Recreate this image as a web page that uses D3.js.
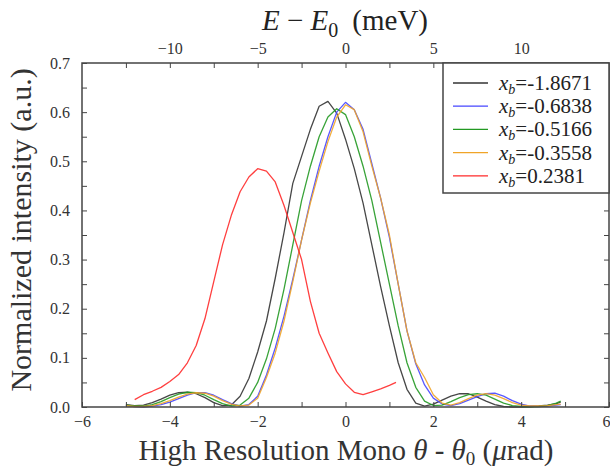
<!DOCTYPE html>
<html><head><meta charset="utf-8">
<script src="https://cdn.jsdelivr.net/npm/d3@7"></script>
<style>
body{margin:0;background:#fff;}
svg{display:block;font-family:"Liberation Serif","DejaVu Serif",serif;}
</style></head>
<body><svg id="c" width="610" height="473"></svg>
<script>
// ---- data (theta - theta0 in µrad, normalized intensity) ----
const gridX = [-5.0,-4.8,-4.6,-4.4,-4.2,-4.0,-3.8,-3.6,-3.4,-3.2,-3.0,-2.8,-2.6,-2.4,-2.2,-2.0,-1.8,-1.6,-1.4,-1.2,-1.0,-0.8,-0.6,-0.4,-0.2,0.0,0.2,0.4,0.6,0.8,1.0,1.2,1.4,1.6,1.8,2.0,2.2,2.4,2.6,2.8,3.0,3.2,3.4,3.6,3.8,4.0,4.2,4.4,4.6,4.8,4.9];
const blackY = [0.005,0.003,0.004,0.009,0.016,0.024,0.029,0.030,0.027,0.019,0.009,0.003,0.004,0.022,0.058,0.112,0.175,0.262,0.355,0.455,0.510,0.565,0.612,0.622,0.598,0.545,0.485,0.415,0.330,0.245,0.165,0.090,0.036,0.008,0.002,0.006,0.014,0.022,0.027,0.027,0.020,0.012,0.005,0.001,0.000,0.000,0.001,0.002,0.004,0.007,0.010];
const blueY = [0.003,0.001,0.000,0.002,0.005,0.010,0.017,0.024,0.029,0.029,0.024,0.015,0.007,0.002,0.005,0.022,0.065,0.120,0.185,0.260,0.340,0.420,0.490,0.550,0.600,0.620,0.605,0.565,0.495,0.425,0.345,0.250,0.155,0.088,0.045,0.018,0.006,0.003,0.007,0.014,0.021,0.027,0.028,0.022,0.013,0.006,0.002,0.001,0.002,0.004,0.005];
const greenY = [0.004,0.002,0.002,0.005,0.011,0.019,0.026,0.030,0.029,0.024,0.015,0.007,0.002,0.004,0.018,0.050,0.098,0.160,0.240,0.330,0.420,0.490,0.550,0.590,0.607,0.595,0.550,0.490,0.420,0.335,0.250,0.165,0.090,0.040,0.012,0.003,0.004,0.011,0.019,0.025,0.027,0.024,0.016,0.008,0.003,0.001,0.000,0.001,0.003,0.008,0.012];
const orangeY = [0.003,0.001,0.001,0.003,0.007,0.013,0.020,0.026,0.029,0.028,0.022,0.013,0.006,0.002,0.004,0.018,0.060,0.110,0.175,0.255,0.340,0.415,0.480,0.540,0.590,0.615,0.605,0.560,0.490,0.425,0.350,0.250,0.155,0.090,0.060,0.025,0.008,0.004,0.009,0.017,0.024,0.027,0.024,0.017,0.009,0.004,0.002,0.002,0.003,0.005,0.006];
const redX = [-4.8,-4.6,-4.4,-4.2,-4.0,-3.8,-3.6,-3.4,-3.2,-3.0,-2.8,-2.6,-2.4,-2.2,-2.0,-1.8,-1.6,-1.4,-1.2,-1.0,-0.8,-0.6,-0.4,-0.2,0.0,0.2,0.4,0.6,0.8,1.0,1.15];
const redY = [0.015,0.025,0.032,0.040,0.052,0.066,0.090,0.125,0.180,0.255,0.330,0.390,0.438,0.468,0.485,0.480,0.458,0.410,0.355,0.300,0.215,0.150,0.110,0.072,0.047,0.030,0.025,0.031,0.037,0.044,0.050];
const seriesNames = ["-1.8671","-0.6838","-0.5166","-0.3558","0.2381"];
const seriesColors = ["#333333","#4646ff","#229922","#f0a428","#ff2a2a"];
const xTicks = [-6,-4,-2,0,2,4,6];
const yTicks = [0.0,0.1,0.2,0.3,0.4,0.5,0.6,0.7];
const topTicks = [-10,-5,0,5,10];

const series = [
  {name:seriesNames[0], color:seriesColors[0], xs:gridX, ys:blackY},
  {name:seriesNames[1], color:seriesColors[1], xs:gridX, ys:blueY},
  {name:seriesNames[2], color:seriesColors[2], xs:gridX, ys:greenY},
  {name:seriesNames[3], color:seriesColors[3], xs:gridX, ys:orangeY},
  {name:seriesNames[4], color:seriesColors[4], xs:redX, ys:redY}
];

const L=82, R=609, T=63, B=407;
const svg = d3.select("#c");
const x = d3.scaleLinear().domain([-6,6]).range([L,R]);
const xTop = d3.scaleLinear().domain([-15,15]).range([L,R]);
const y = d3.scaleLinear().domain([0,0.7]).range([B,T]);
const axisCol = "#444";
const labCol = "#333";

// curves
const line = d3.line().x(d=>x(d[0])).y(d=>y(d[1]));
const plot = svg.append("g");
series.forEach(s=>{
  plot.append("path").datum(s.xs.map((v,i)=>[v,s.ys[i]]))
    .attr("d",line).attr("fill","none").attr("stroke",s.color)
    .attr("stroke-width",1.3).attr("stroke-linejoin","round").attr("opacity",0.9);
});

// axes
function styleAxis(g){
  g.select(".domain").remove();
  g.selectAll(".tick line").attr("stroke",axisCol).attr("stroke-width",1);
  g.selectAll(".tick text").attr("fill",labCol).attr("font-size",16)
    .attr("font-family","'Liberation Serif',serif");
}
const gb = svg.append("g").attr("transform",`translate(0,${B})`)
  .call(d3.axisBottom(x).tickValues(d3.range(-6,6.01,1)).tickSizeInner(-5).tickSizeOuter(0).tickPadding(9)
    .tickFormat(d=> xTicks.includes(d)? d3.format("d")(d):""));
styleAxis(gb);
gb.selectAll(".tick text").filter(d=>d===6).attr("text-anchor","end").attr("dx",1);
const gt = svg.append("g").attr("transform",`translate(0,${T})`)
  .call(d3.axisTop(xTop).tickValues(d3.range(-12.5,12.51,2.5)).tickSizeInner(-5).tickSizeOuter(0).tickPadding(9)
    .tickFormat(d=> topTicks.includes(d)? d3.format("d")(d):""));
styleAxis(gt);
const gl = svg.append("g").attr("transform",`translate(${L},0)`)
  .call(d3.axisLeft(y).tickValues(d3.range(0,0.701,0.05)).tickSizeInner(-5).tickSizeOuter(0).tickPadding(12)
    .tickFormat(d=>{const r=Math.round(d*100)/100; return yTicks.some(t=>Math.abs(t-r)<1e-9)? d3.format(".1f")(r):"";}));
styleAxis(gl);
const gr = svg.append("g").attr("transform",`translate(${R},0)`)
  .call(d3.axisRight(y).tickValues(d3.range(0,0.701,0.05)).tickSizeInner(-5).tickSizeOuter(0).tickFormat(""));
styleAxis(gr);

// frame
svg.append("rect").attr("x",L).attr("y",T).attr("width",R-L).attr("height",B-T)
  .attr("fill","none").attr("stroke",axisCol).attr("stroke-width",1.5);

// legend
const lg = svg.append("g");
lg.append("rect").attr("x",443).attr("y",T).attr("width",R-443).attr("height",130)
  .attr("fill","#fff").attr("stroke",axisCol).attr("stroke-width",1.5);
series.forEach((s,i)=>{
  const yy = 83 + i*23.2;
  lg.append("line").attr("x1",453).attr("x2",488).attr("y1",yy).attr("y2",yy)
    .attr("stroke",s.color).attr("stroke-width",1.3);
  const t = lg.append("text").attr("x",499).attr("y",yy+7).attr("font-size",21).attr("fill","#222");
  t.append("tspan").attr("font-style","italic").text("x");
  t.append("tspan").attr("font-style","italic").attr("font-size",14).attr("dy",4).text("b");
  t.append("tspan").attr("dy",-4).text("="+s.name);
});

// titles
const tb = svg.append("text").attr("x",346).attr("y",460).attr("text-anchor","middle")
  .attr("font-size",29).attr("fill","#333");
tb.append("tspan").text("High Resolution Mono ");
tb.append("tspan").attr("font-style","italic").text("θ");
tb.append("tspan").text(" - ");
tb.append("tspan").attr("font-style","italic").text("θ");
tb.append("tspan").attr("font-size",19).attr("dy",5).text("0");
tb.append("tspan").attr("dy",-5).text(" (");
tb.append("tspan").attr("font-style","italic").text("μ");
tb.append("tspan").text("rad)");

const tt = svg.append("text").attr("x",345).attr("y",30).attr("text-anchor","middle")
  .attr("font-size",29).attr("fill","#222");
tt.append("tspan").attr("font-style","italic").text("E");
tt.append("tspan").text(" − ");
tt.append("tspan").attr("font-style","italic").text("E");
tt.append("tspan").attr("font-size",20).attr("dy",7).text("0");
tt.append("tspan").attr("dy",-7).attr("dx",14).text("(meV)");

svg.append("text").attr("transform","translate(31,230) rotate(-90)").attr("text-anchor","middle")
  .attr("font-size",30).attr("fill","#333").text("Normalized intensity (a.u.)");
</script></body></html>
